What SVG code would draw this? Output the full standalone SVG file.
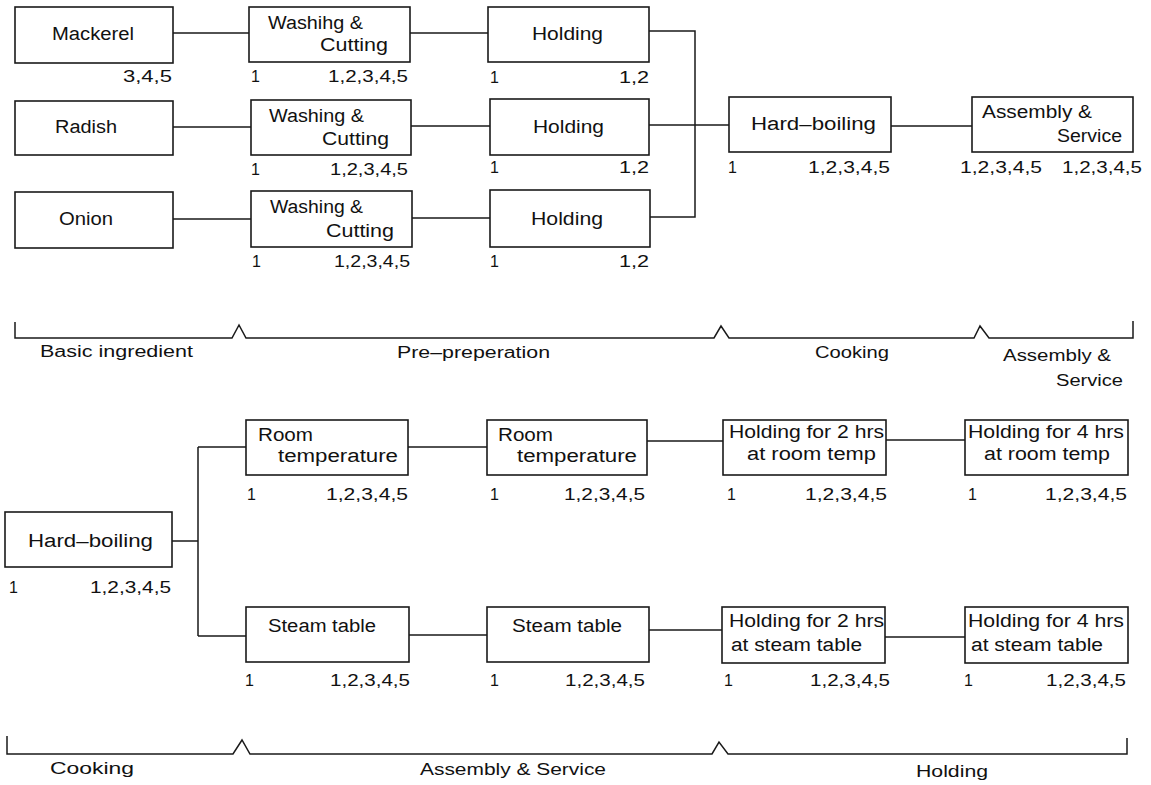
<svg xmlns="http://www.w3.org/2000/svg" width="1151" height="785" viewBox="0 0 1151 785">
<style>
.box{fill:#fff;stroke:#1a1a1a;stroke-width:1.6}
.c{fill:none;stroke:#1a1a1a;stroke-width:1.5}
text{font-family:"Liberation Sans",Arial,Helvetica,sans-serif;fill:#111}
.b{font-size:18px}
.n{font-size:16px}
.l{font-size:16px}
</style>
<rect width="1151" height="785" fill="#fff"/>
<g id="connectors">
<path class="c" d="M173,33H249M173,127H251M173,219H251M410,33H488M411,126H490M412,218H490M649,31H695V217H650M649,125H729M891,126H972"/>
<path class="c" d="M15,322V338H232L239,325L246,338H714L721,326L729,338H974L980,326L989,338H1133V321"/>
<path class="c" d="M172,541H198M198,447V636M198,447H246M198,636H246M408,447H487M409,635H487M647,441H723M649,630H722M886,440H965M885,637H965"/>
<path class="c" d="M7,736V754H233L242,740L250,754H712L719,742L728,754H1127V738"/>
</g>
<g id="mackerel"><rect class="box" x="15" y="7" width="158" height="56"/><text class="b" x="52" y="40" textLength="82" lengthAdjust="spacingAndGlyphs">Mackerel</text><text class="n" x="123" y="82" textLength="49" lengthAdjust="spacingAndGlyphs">3,4,5</text></g>
<g id="wash1"><rect class="box" x="249" y="7" width="161" height="55"/><text class="b" x="268" y="29" textLength="95" lengthAdjust="spacingAndGlyphs">Washihg &amp;</text><text class="b" x="320" y="51" textLength="68" lengthAdjust="spacingAndGlyphs">Cutting</text><text class="n" x="251" y="82">1</text><text class="n" x="328" y="82" textLength="80" lengthAdjust="spacingAndGlyphs">1,2,3,4,5</text></g>
<g id="hold1"><rect class="box" x="488" y="7" width="161" height="55"/><text class="b" x="532" y="40" textLength="71" lengthAdjust="spacingAndGlyphs">Holding</text><text class="n" x="490" y="83">1</text><text class="n" x="619" y="83" textLength="30" lengthAdjust="spacingAndGlyphs">1,2</text></g>
<g id="radish"><rect class="box" x="15" y="101" width="158" height="54"/><text class="b" x="55" y="133" textLength="62" lengthAdjust="spacingAndGlyphs">Radish</text></g>
<g id="wash2"><rect class="box" x="251" y="100" width="160" height="55"/><text class="b" x="269" y="122" textLength="95" lengthAdjust="spacingAndGlyphs">Washing &amp;</text><text class="b" x="322" y="145" textLength="67" lengthAdjust="spacingAndGlyphs">Cutting</text><text class="n" x="251" y="175">1</text><text class="n" x="330" y="175" textLength="78" lengthAdjust="spacingAndGlyphs">1,2,3,4,5</text></g>
<g id="hold2"><rect class="box" x="490" y="99" width="159" height="56"/><text class="b" x="533" y="133" textLength="71" lengthAdjust="spacingAndGlyphs">Holding</text><text class="n" x="490" y="173">1</text><text class="n" x="619" y="173" textLength="30" lengthAdjust="spacingAndGlyphs">1,2</text></g>
<g id="onion"><rect class="box" x="15" y="192" width="158" height="56"/><text class="b" x="59" y="225" textLength="54" lengthAdjust="spacingAndGlyphs">Onion</text></g>
<g id="wash3"><rect class="box" x="251" y="191" width="161" height="56"/><text class="b" x="270" y="213" textLength="93" lengthAdjust="spacingAndGlyphs">Washing &amp;</text><text class="b" x="326" y="237" textLength="68" lengthAdjust="spacingAndGlyphs">Cutting</text><text class="n" x="252" y="267">1</text><text class="n" x="334" y="267" textLength="76" lengthAdjust="spacingAndGlyphs">1,2,3,4,5</text></g>
<g id="hold3"><rect class="box" x="490" y="190" width="160" height="57"/><text class="b" x="531" y="225" textLength="72" lengthAdjust="spacingAndGlyphs">Holding</text><text class="n" x="490" y="267">1</text><text class="n" x="619" y="267" textLength="30" lengthAdjust="spacingAndGlyphs">1,2</text></g>
<g id="hardboil1"><rect class="box" x="729" y="97" width="162" height="55"/><text class="b" x="751" y="130" textLength="125" lengthAdjust="spacingAndGlyphs">Hard–boiling</text><text class="n" x="728" y="173">1</text><text class="n" x="808" y="173" textLength="82" lengthAdjust="spacingAndGlyphs">1,2,3,4,5</text></g>
<g id="assembly1"><rect class="box" x="972" y="97" width="161" height="55"/><text class="b" x="982" y="118" textLength="110" lengthAdjust="spacingAndGlyphs">Assembly &amp;</text><text class="b" x="1057" y="142" textLength="65" lengthAdjust="spacingAndGlyphs">Service</text><text class="n" x="960" y="173" textLength="82" lengthAdjust="spacingAndGlyphs">1,2,3,4,5</text><text class="n" x="1062" y="173" textLength="80" lengthAdjust="spacingAndGlyphs">1,2,3,4,5</text></g>
<g id="phases1">
<text class="l" x="40" y="357" textLength="153" lengthAdjust="spacingAndGlyphs">Basic ingredient</text>
<text class="l" x="397" y="358" textLength="153" lengthAdjust="spacingAndGlyphs">Pre–preperation</text>
<text class="l" x="815" y="358" textLength="74" lengthAdjust="spacingAndGlyphs">Cooking</text>
<text class="l" x="1003" y="361" textLength="108" lengthAdjust="spacingAndGlyphs">Assembly &amp;</text>
<text class="l" x="1056" y="386" textLength="67" lengthAdjust="spacingAndGlyphs">Service</text>
</g>
<g id="hardboil2"><rect class="box" x="5" y="512" width="167" height="55"/><text class="b" x="28" y="547" textLength="125" lengthAdjust="spacingAndGlyphs">Hard–boiling</text><text class="n" x="9" y="593">1</text><text class="n" x="90" y="593" textLength="81" lengthAdjust="spacingAndGlyphs">1,2,3,4,5</text></g>
<g id="room1"><rect class="box" x="246" y="420" width="162" height="55"/><text class="b" x="258" y="441" textLength="55" lengthAdjust="spacingAndGlyphs">Room</text><text class="b" x="278" y="462" textLength="120" lengthAdjust="spacingAndGlyphs">temperature</text><text class="n" x="247" y="500">1</text><text class="n" x="326" y="500" textLength="82" lengthAdjust="spacingAndGlyphs">1,2,3,4,5</text></g>
<g id="room2"><rect class="box" x="487" y="420" width="160" height="55"/><text class="b" x="498" y="441" textLength="55" lengthAdjust="spacingAndGlyphs">Room</text><text class="b" x="517" y="462" textLength="120" lengthAdjust="spacingAndGlyphs">temperature</text><text class="n" x="490" y="500">1</text><text class="n" x="564" y="500" textLength="81" lengthAdjust="spacingAndGlyphs">1,2,3,4,5</text></g>
<g id="hold2room"><rect class="box" x="723" y="420" width="163" height="55"/><text class="b" x="729" y="438" textLength="155" lengthAdjust="spacingAndGlyphs">Holding for 2 hrs</text><text class="b" x="747" y="460" textLength="129" lengthAdjust="spacingAndGlyphs">at room temp</text><text class="n" x="727" y="500">1</text><text class="n" x="805" y="500" textLength="82" lengthAdjust="spacingAndGlyphs">1,2,3,4,5</text></g>
<g id="hold4room"><rect class="box" x="965" y="420" width="163" height="55"/><text class="b" x="968" y="438" textLength="156" lengthAdjust="spacingAndGlyphs">Holding for 4 hrs</text><text class="b" x="984" y="460" textLength="126" lengthAdjust="spacingAndGlyphs">at room temp</text><text class="n" x="968" y="500">1</text><text class="n" x="1045" y="500" textLength="82" lengthAdjust="spacingAndGlyphs">1,2,3,4,5</text></g>
<g id="steam1"><rect class="box" x="246" y="607" width="163" height="55"/><text class="b" x="268" y="632" textLength="108" lengthAdjust="spacingAndGlyphs">Steam table</text><text class="n" x="245" y="686">1</text><text class="n" x="330" y="686" textLength="80" lengthAdjust="spacingAndGlyphs">1,2,3,4,5</text></g>
<g id="steam2"><rect class="box" x="487" y="607" width="162" height="55"/><text class="b" x="512" y="632" textLength="110" lengthAdjust="spacingAndGlyphs">Steam table</text><text class="n" x="490" y="686">1</text><text class="n" x="565" y="686" textLength="80" lengthAdjust="spacingAndGlyphs">1,2,3,4,5</text></g>
<g id="hold2steam"><rect class="box" x="722" y="607" width="163" height="56"/><text class="b" x="729" y="627" textLength="155" lengthAdjust="spacingAndGlyphs">Holding for 2 hrs</text><text class="b" x="731" y="651" textLength="131" lengthAdjust="spacingAndGlyphs">at steam table</text><text class="n" x="724" y="686">1</text><text class="n" x="810" y="686" textLength="80" lengthAdjust="spacingAndGlyphs">1,2,3,4,5</text></g>
<g id="hold4steam"><rect class="box" x="965" y="607" width="163" height="56"/><text class="b" x="968" y="627" textLength="156" lengthAdjust="spacingAndGlyphs">Holding for 4 hrs</text><text class="b" x="971" y="651" textLength="132" lengthAdjust="spacingAndGlyphs">at steam table</text><text class="n" x="964" y="686">1</text><text class="n" x="1046" y="686" textLength="80" lengthAdjust="spacingAndGlyphs">1,2,3,4,5</text></g>
<g id="phases2">
<text class="l" x="50" y="774" textLength="84" lengthAdjust="spacingAndGlyphs">Cooking</text>
<text class="l" x="420" y="775" textLength="186" lengthAdjust="spacingAndGlyphs">Assembly &amp; Service</text>
<text class="l" x="916" y="777" textLength="72" lengthAdjust="spacingAndGlyphs">Holding</text>
</g>
</svg>
